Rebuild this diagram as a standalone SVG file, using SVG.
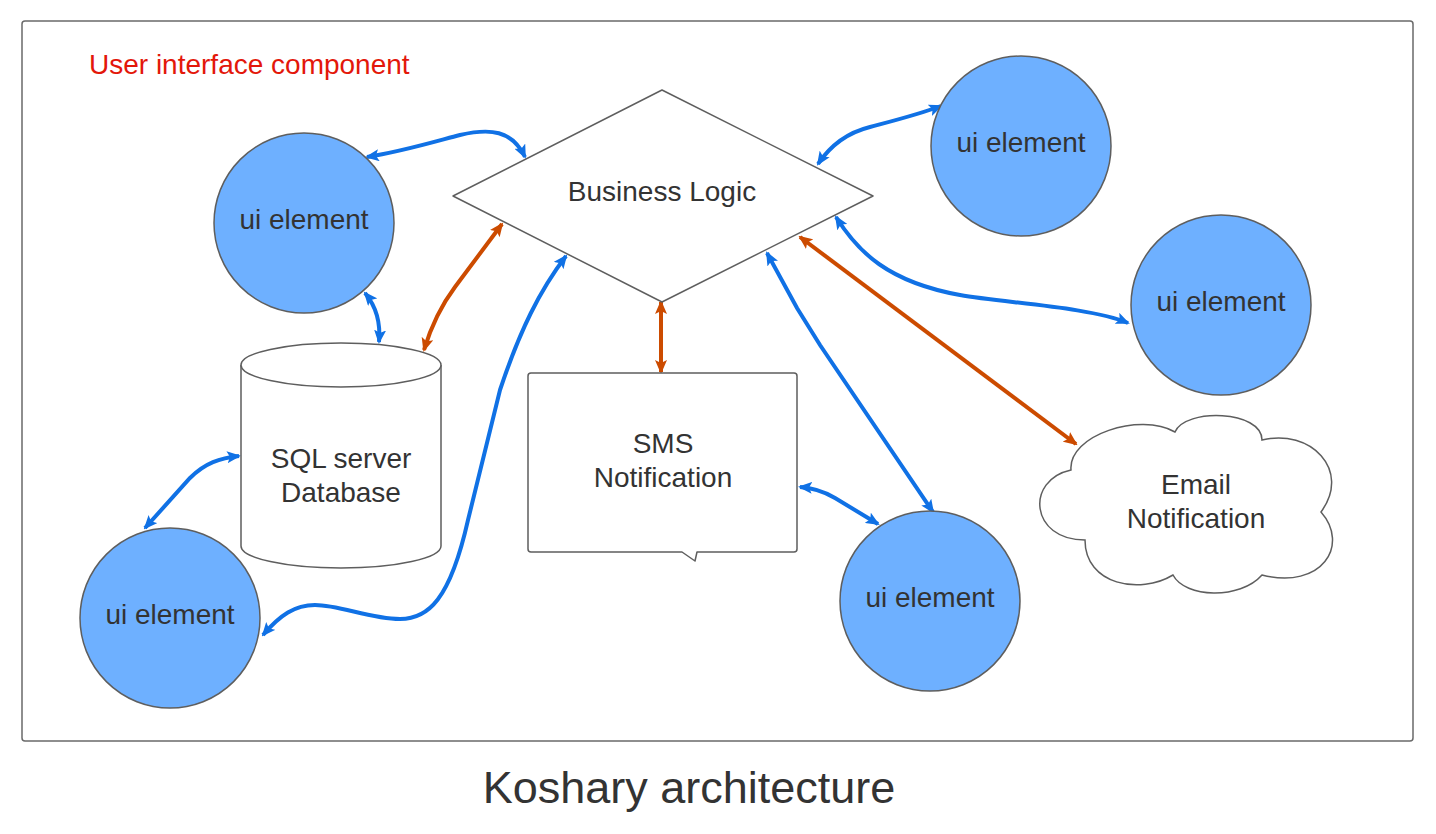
<svg xmlns="http://www.w3.org/2000/svg" width="1436" height="834" viewBox="0 0 1436 834">
<style>
text{font-family:"Liberation Sans",Arial,sans-serif;fill:#333333;font-size:28px;text-anchor:middle}
.shape{stroke:#5e5e5e;stroke-width:1.5}
.ui{fill:#6eb0ff}
.white{fill:#ffffff}
.b{fill:none;stroke:#1071e5;stroke-width:4;marker-start:url(#ab);marker-end:url(#ab)}
.o{fill:none;stroke:#cc4b00;stroke-width:4;marker-start:url(#ao);marker-end:url(#ao)}
</style>
<defs>
<marker id="ab" viewBox="0 0 14 12" refX="12" refY="6" markerWidth="14" markerHeight="12" markerUnits="userSpaceOnUse" orient="auto-start-reverse">
<path d="M0,0 L14,6 L0,12 L3,6 z" fill="#1071e5"/>
</marker>
<marker id="ao" viewBox="0 0 14 12" refX="12" refY="6" markerWidth="14" markerHeight="12" markerUnits="userSpaceOnUse" orient="auto-start-reverse">
<path d="M0,0 L14,6 L0,12 L3,6 z" fill="#cc4b00"/>
</marker>
</defs>
<rect x="0" y="0" width="1436" height="834" fill="#ffffff"/>
<rect x="22" y="21" width="1391" height="720" rx="3" fill="#ffffff" stroke="#6a6a6a" stroke-width="1.5"/>
<text x="89" y="74" style="text-anchor:start;fill:#e3170a;font-size:28px">User interface component</text>

<g id="connectors">
<path class="b" d="M367 157 C400 152,430 143,460 135 C490 128,512 130,525 157"/>
<path class="b" d="M818 164 C832 143,850 132,870 127 C900 119,920 114,941 106"/>
<path class="b" d="M836 217 C858 252,888 282,960 295 C1005 303,1090 307,1128 323"/>
<path class="b" d="M767 253 L797 308 L820 345 L933 512"/>
<path class="b" d="M800 487 C815 488,825 492,835 498 L878 524"/>
<path class="b" d="M365 293 C375 305,381 320,379 342"/>
<path class="b" d="M239 456 C220 458,205 463,190 478 L145 528"/>
<path class="b" d="M566 256 C540 290,520 330,500 390 L468 520 C450 600,428 619,400 619 C370 619,340 605,315 605 C295 605,280 615,263 635"/>
<path class="o" d="M502 224 L455 287 C440 307,430 330,424 350"/>
<path class="o" d="M661 302 L661 372"/>
<path class="o" d="M800 237 L1076 444"/>
</g>

<g id="ui1"><circle class="shape ui" cx="304" cy="223" r="90"/><text x="304" y="229">ui element</text></g>
<g id="ui2"><circle class="shape ui" cx="1021" cy="146" r="90"/><text x="1021" y="152">ui element</text></g>
<g id="ui3"><circle class="shape ui" cx="1221" cy="305" r="90"/><text x="1221" y="311">ui element</text></g>
<g id="ui4"><circle class="shape ui" cx="170" cy="618" r="90"/><text x="170" y="624">ui element</text></g>
<g id="ui5"><circle class="shape ui" cx="930" cy="601" r="90"/><text x="930" y="607">ui element</text></g>

<g id="business-logic">
<path class="shape white" d="M453 196 L662 90 L873 196 L662 302 Z" stroke-linejoin="round"/>
<text x="662" y="201">Business Logic</text>
</g>

<g id="database">
<path class="shape white" d="M241 365 L241 546 A100 22 0 0 0 441 546 L441 365"/>
<ellipse class="shape white" cx="341" cy="365" rx="100" ry="22"/>
<text x="341" y="468">SQL server</text>
<text x="341" y="502">Database</text>
</g>

<g id="sms">
<path class="shape white" d="M531 373 L794 373 Q797 373 797 376 L797 549 Q797 552 794 552 L697 552 L695 561 L682 552 L531 552 Q528 552 528 549 L528 376 Q528 373 531 373 Z" stroke-linejoin="round"/>
<text x="663" y="453">SMS</text>
<text x="663" y="487">Notification</text>
</g>

<g id="email">
<path class="shape white" d="M1071 470 C1068 435,1140 412,1175 432 C1185 408,1262 410,1262 440 C1310 428,1352 470,1321 512 C1350 545,1322 590,1262 575 C1240 600,1185 598,1173 575 C1140 595,1085 585,1085 540 C1030 540,1025 480,1071 470 Z"/>
<text x="1196" y="494">Email</text>
<text x="1196" y="528">Notification</text>
</g>

<text x="689" y="803" style="font-size:45px">Koshary architecture</text>
</svg>
